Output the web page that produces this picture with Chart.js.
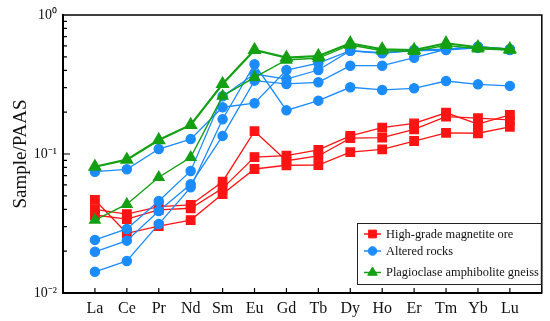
<!DOCTYPE html>
<html>
<head>
<meta charset="utf-8">
<script src="https://cdn.jsdelivr.net/npm/chart.js@4.4.1/dist/chart.umd.min.js"></script>
<style>
  html, body { margin:0; padding:0; background:#fff; }
  #wrap { position:relative; width:550px; height:321px; }
</style>
</head>
<body>
<div id="wrap">
  <canvas id="chart" width="550" height="321"></canvas>
</div>
<script>
const categories = ['La','Ce','Pr','Nd','Sm','Eu','Gd','Tb','Dy','Ho','Er','Tm','Yb','Lu'];

// High-grade magnetite ore
const ore1 = [0.0467,0.0269,0.0303,0.0335,0.0515,0.078,0.083,0.0833,0.103,0.108,0.124,0.142,0.141,0.157];
const ore2 = [0.040,0.037,0.0418,0.043,0.0632,0.146,0.0895,0.0968,0.130,0.131,0.1506,0.1855,0.181,0.176];
const ore3 = [0.0364,0.034,0.0396,0.0407,0.0566,0.0951,0.0972,0.107,0.135,0.1546,0.166,0.198,0.164,0.191];

// Altered rocks
const alt1 = [0.0746,0.0776,0.1086,0.128,0.217,0.232,0.402,0.450,0.553,0.530,0.560,0.567,0.592,0.567];
const alt2 = [0.0241,0.0289,0.0459,0.0755,0.26,0.376,0.346,0.402,0.553,0.535,0.553,0.56,0.58,0.56];
const alt3 = [0.0198,0.0238,0.0389,0.0605,0.135,0.337,0.319,0.328,0.432,0.432,0.493,0.567,0.592,0.567];
const alt4 = [0.0142,0.0170,0.0313,0.0576,0.178,0.442,0.206,0.242,0.302,0.289,0.297,0.335,0.317,0.309];

// Plagioclase amphibolite gneiss
const gn1 = [0.081,0.091,0.126,0.162,0.319,0.560,0.493,0.507,0.626,0.567,0.560,0.626,0.586,0.567];
const gn2 = [0.0335,0.0435,0.068,0.0947,0.261,0.356,0.475,0.490,0.609,0.553,0.548,0.605,0.572,0.560];

const yTicks = [0.01, 0.1, 1];
const yTickText = ['10\u207B\u00B2', '10\u207B\u00B9', '10\u2070'];
const groupNames = ['High-grade magnetite ore', 'Altered rocks', 'Plagioclase amphibolite gneiss'];

const RED = '#ff1414', BLUE = '#1a8cff', GREEN = '#13a013';
const serif = "'Liberation Serif', 'Times New Roman', serif";

function series(arr, color, style, radius, width, order) {
    return {
        data: arr.map((v, i) => ({x:i, y:v})),
        borderColor: color, backgroundColor: color,
        pointStyle: style, pointRadius: radius, borderWidth: width,
        order: order
    };
}

const datasets = [
    series(ore1, RED, 'rect', 6, 1.3, 3),
    series(ore2, RED, 'rect', 6, 1.3, 3),
    series(ore3, RED, 'rect', 6, 1.3, 3),
    series(alt1, BLUE, 'circle', 4.6, 1.3, 2),
    series(alt2, BLUE, 'circle', 4.6, 1.3, 2),
    series(alt3, BLUE, 'circle', 4.6, 1.3, 2),
    series(alt4, BLUE, 'circle', 4.6, 1.3, 2),
    series(gn1, GREEN, 'triangle', 6, 2.2, 1),
    series(gn2, GREEN, 'triangle', 6, 1.4, 1)
];

const legendRows = [
    {text: groupNames[0], color: RED, style: 'rect', radius: 5.5, y: 234},
    {text: groupNames[1], color: BLUE, style: 'circle', radius: 4.3, y: 251},
    {text: groupNames[2], color: GREEN, style: 'triangle', radius: 5.5, y: 272.5}
];

// box round the plot, inward ticks, and the legend box
const boxFrame = {
    id: 'boxFrame',
    afterDraw(chart) {
        const a = chart.chartArea, ctx = chart.ctx;
        const xs = chart.scales.x, ys = chart.scales.y;
        ctx.save();
        ctx.strokeStyle = '#000';
        ctx.lineWidth = 1.5;
        ctx.strokeRect(a.left, a.top, a.right - a.left, a.bottom - a.top);
        ctx.lineWidth = 1.2;
        ctx.beginPath();
        [0.01, 0.1].forEach(d => {
            for (let k = 1; k <= 9; k++) {
                const y = ys.getPixelForValue(k * d);
                ctx.moveTo(a.left, y);
                ctx.lineTo(a.left + (k === 1 ? 7 : 4), y);
            }
        });
        categories.forEach((c, i) => {
            const x = xs.getPixelForValue(i);
            ctx.moveTo(x, a.bottom);
            ctx.lineTo(x, a.bottom - 5);
        });
        ctx.stroke();

        // legend
        const lx = 357, ly = 223, lw = a.right - 358, lh = 61;
        ctx.fillStyle = '#fff';
        ctx.fillRect(lx, ly, lw, lh);
        ctx.strokeStyle = '#222';
        ctx.lineWidth = 1;
        ctx.strokeRect(lx + 0.5, ly + 0.5, lw, lh);
        ctx.font = '12.4px ' + serif;
        ctx.textBaseline = 'middle';
        ctx.textAlign = 'left';
        legendRows.forEach(r => {
            ctx.strokeStyle = r.color;
            ctx.fillStyle = r.color;
            ctx.lineWidth = 1.5;
            ctx.beginPath();
            ctx.moveTo(364, r.y);
            ctx.lineTo(381, r.y);
            ctx.stroke();
            ctx.lineWidth = 1;
            Chart.helpers.drawPoint(ctx, {pointStyle: r.style, radius: r.radius, rotation: 0, borderWidth: 1}, 372.5, r.y);
            ctx.fillStyle = '#111';
            ctx.fillText(r.text, 386, r.y + 0.5);
        });
        ctx.restore();
    }
};

new Chart(document.getElementById('chart'), {
    type: 'line',
    data: { datasets: datasets },
    options: {
        responsive: false,
        animation: false,
        layout: { padding: { top: 15, right: 5, left: 0, bottom: 0 } },
        plugins: { legend: { display: false }, tooltip: { enabled: false } },
        scales: {
            x: {
                type: 'linear', min: -1, max: 14,
                grid: { display: false, drawTicks: false },
                border: { display: true, color: '#000', width: 2 },
                afterBuildTicks: s => { s.ticks = categories.map((c, i) => ({value: i})); },
                afterFit: s => { s.height = 28; },
                ticks: {
                    autoSkip: false, maxRotation: 0, padding: 6,
                    color: '#111', font: { family: serif, size: 16 },
                    callback: v => categories[v]
                }
            },
            y: {
                type: 'logarithmic', min: 0.01, max: 1,
                grid: { display: false, drawTicks: false },
                border: { display: true, color: '#000', width: 2 },
                afterBuildTicks: s => { s.ticks = yTicks.map(v => ({value: v})); },
                afterFit: s => { s.width = 63; },
                ticks: {
                    padding: 6, color: '#111', font: { family: serif, size: 14 },
                    callback: v => yTickText[yTicks.indexOf(v)]
                },
                title: {
                    display: true, text: 'Sample/PAAS', color: '#111',
                    font: { family: serif, size: 19 }, padding: { top: 10, bottom: 0 }
                }
            }
        }
    },
    plugins: [boxFrame]
});
</script>
</body>
</html>
